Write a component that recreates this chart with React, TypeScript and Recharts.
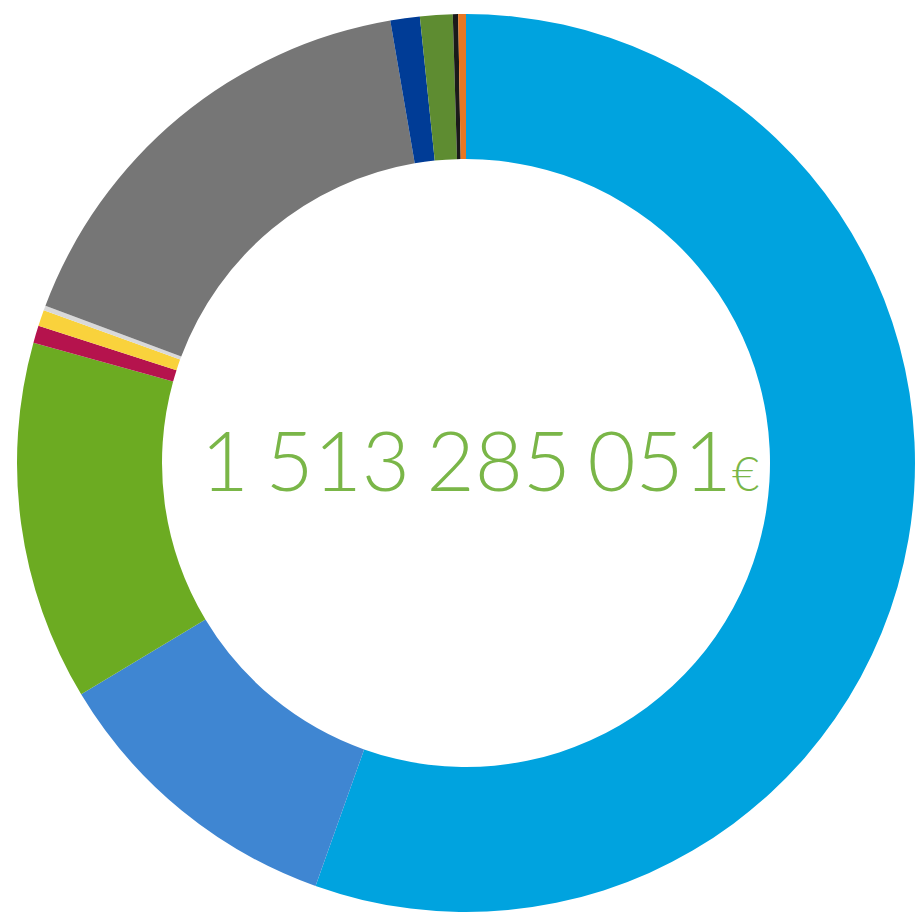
import { PieChart, Pie, Cell, Label } from 'recharts'

// slices clockwise from 12 o'clock, values in millions of euros
const categories = [
  'Poste 1',
  'Poste 2',
  'Poste 3',
  'Poste 4',
  'Poste 5',
  'Poste 6',
  'Poste 7',
  'Poste 8',
  'Poste 9',
  'Poste 10',
  'Poste 11',
]
const amounts = [838.5, 165.6, 195.6, 9.4, 8.8, 2.6, 251.2, 16.0, 17.7, 2.9, 4.2]
const colors = [
  '#00A3DF',
  '#3F86D2',
  '#6CAB22',
  '#B5134D',
  '#F9D23C',
  '#D9D9D9',
  '#767676',
  '#003C96',
  '#5E8C31',
  '#1A1A1A',
  '#E87722',
]
const totalLabel = '1 513 285 051'
const currencySign = '€'

const data = categories.map((name, i) => ({ name, value: amounts[i] }))

interface CenterProps {
  viewBox?: { cx?: number; cy?: number }
}

function CenterTotal({ viewBox }: CenterProps) {
  const cx = viewBox?.cx ?? 466
  const cy = viewBox?.cy ?? 463
  return (
    <text
      x={cx + 14}
      y={cy + 28}
      textAnchor="middle"
      fill="#7AB648"
      fontFamily="Lato, 'Open Sans', sans-serif"
      fontWeight={300}
      fontSize={83}
      wordSpacing={-6}
    >
      {totalLabel}
      <tspan fontSize={47}>{currencySign}</tspan>
    </text>
  )
}

export default function App() {
  return (
    <div style={{ position: 'absolute', left: 0, top: 0, width: 917, height: 917, background: '#fff' }}>
      <PieChart width={917} height={917} margin={{ top: 0, right: 0, bottom: 0, left: 0 }}>
        <Pie
          data={data}
          dataKey="value"
          nameKey="name"
          cx={466}
          cy={463}
          innerRadius={304}
          outerRadius={449}
          startAngle={90}
          endAngle={-270}
          stroke="none"
          isAnimationActive={false}
        >
          {data.map((d, i) => (
            <Cell key={d.name} fill={colors[i]} />
          ))}
          <Label position="center" content={(props: CenterProps) => <CenterTotal {...props} />} />
        </Pie>
      </PieChart>
    </div>
  )
}
